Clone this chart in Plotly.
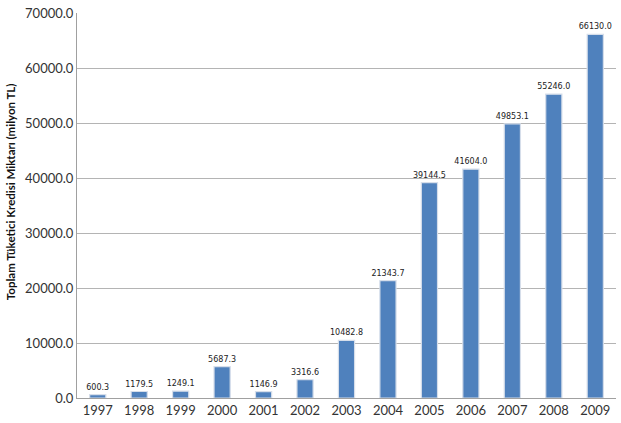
import plotly.graph_objects as go

years = ["1997", "1998", "1999", "2000", "2001", "2002", "2003", "2004", "2005", "2006", "2007", "2008", "2009"]
credit = [600.3, 1179.5, 1249.1, 5687.3, 1146.9, 3316.6, 10482.8, 21343.7, 39144.5, 41604.0, 49853.1, 55246.0, 66130.0]
y_ticks = [0, 10000, 20000, 30000, 40000, 50000, 60000, 70000]
y_tick_labels = [f"{v:.1f}" for v in y_ticks]
labels = [f"{v:.1f}" for v in credit]
y_title = "Toplam Tüketici Kredisi Miktarı (milyon TL)"

fig = go.Figure()
fig.add_trace(go.Bar(
    x=years, y=credit, width=0.39,
    marker=dict(color="#4F81BD", line=dict(color="#D6DEEA", width=1.2)),
    text=labels, textposition="outside", cliponaxis=False,
    textfont=dict(family="DejaVu Sans", size=8, color="#222222"),
))
fig.update_layout(
    width=621, height=423,
    margin=dict(l=77, r=5, t=8, b=21),
    paper_bgcolor="white", plot_bgcolor="white",
    showlegend=False, bargap=0.6,
    uniformtext=dict(minsize=8, mode="show"),
)
fig.add_annotation(
    text=f"<b>{y_title}</b>", xref="paper", yref="paper",
    x=-0.124, y=0.535, xanchor="center", yanchor="middle",
    textangle=-90, showarrow=False,
    font=dict(family="Lato", size=11.5, color="#111111"),
)
fig.update_xaxes(
    showline=True, linecolor="#A0A0A0", linewidth=1,
    tickfont=dict(family="Lato", size=13, color="#333333"),
    ticks="", showgrid=False,
)
fig.update_yaxes(
    range=[0, 70000.1], tickvals=y_ticks, ticktext=y_tick_labels,
    showline=True, linecolor="#A0A0A0", linewidth=1,
    gridcolor="#B4B4B4", gridwidth=1,
    tickfont=dict(family="Lato", size=13, color="#333333"),
    ticks="", ticklen=0, ticklabeloverflow="allow",
    zeroline=False,
)
fig.write_html("out.html", config={"displayModeBar": False},
               post_script="document.body.style.margin='0';document.body.style.overflow='hidden';")
